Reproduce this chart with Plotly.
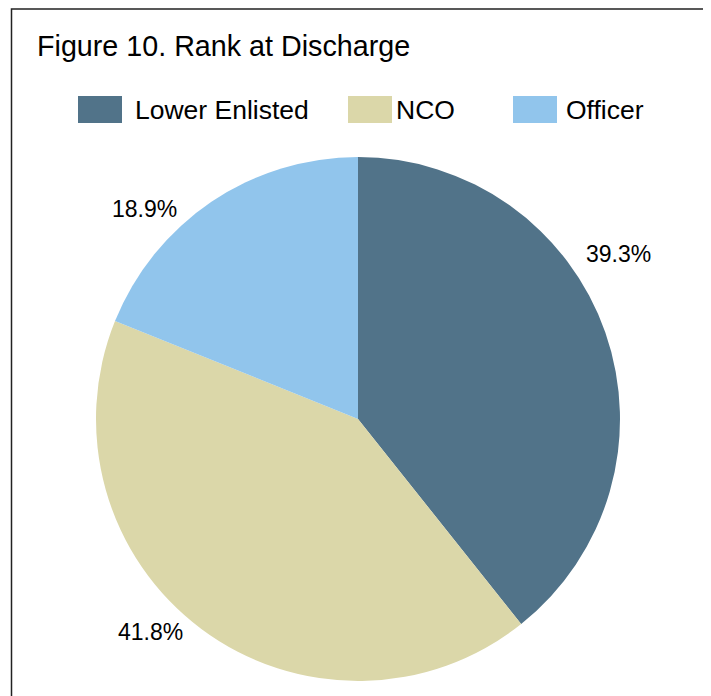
import plotly.graph_objects as go

title_text = "Figure 10. Rank at Discharge"
categories = ["Lower Enlisted", "NCO", "Officer"]
values = [39.3, 41.8, 18.9]
colors = ["#517389", "#DBD7A9", "#91C5EC"]

# layout / style (pixel positions in the browser window)
OFF = 8  # default page body margin
W, H = 711 - OFF, 696 - OFF
label_pos = [(618, 254), (150, 632), (144, 209)]
swatch_x = [78, 348, 513]
text_x = [133, 394, 564]
FONT = "Liberation Sans, Arial, sans-serif"

def px(x):
    return (x - OFF) / W

def py(y):
    return 1 - (y - OFF) / H

fig = go.Figure()
fig.add_trace(go.Pie(
    labels=categories,
    values=values,
    sort=False,
    direction="clockwise",
    rotation=0,
    textinfo="none",
    hoverinfo="label+percent",
    marker=dict(colors=colors, line=dict(width=0)),
    domain=dict(x=[px(96), px(620)], y=[py(681), py(157)]),
    showlegend=False,
))

annotations = []
shapes = []

# title
annotations.append(dict(
    x=px(34.5), y=py(46), xref="paper", yref="paper", xanchor="left", yanchor="middle",
    text=title_text, showarrow=False, font=dict(family=FONT, size=28.7, color="#000000"),
))

# legend (swatches + labels)
for cat, col, sx, tx in zip(categories, colors, swatch_x, text_x):
    shapes.append(dict(type="rect", xref="paper", yref="paper",
                       x0=px(sx), x1=px(sx + 44), y0=py(123), y1=py(96),
                       fillcolor=col, line=dict(width=0)))
    annotations.append(dict(
        x=px(tx), y=py(110), xref="paper", yref="paper", xanchor="left", yanchor="middle",
        text=cat, showarrow=False, font=dict(family=FONT, size=26.5, color="#000000"),
    ))

# percentage labels
total = sum(values)
for v, (lx, ly) in zip(values, label_pos):
    annotations.append(dict(
        x=px(lx), y=py(ly), xref="paper", yref="paper", xanchor="center", yanchor="middle",
        text=f"{v / total * 100:.1f}%", showarrow=False,
        font=dict(family=FONT, size=23, color="#000000"),
    ))

# outer border
shapes.append(dict(type="rect", xref="paper", yref="paper",
                   x0=px(11.5), x1=px(705.5), y0=py(720), y1=py(9),
                   line=dict(color="#222222", width=1.5), fillcolor="rgba(0,0,0,0)"))

fig.update_layout(
    width=W, height=H,
    margin=dict(l=0, r=0, t=0, b=0),
    paper_bgcolor="white", plot_bgcolor="white",
    annotations=annotations, shapes=shapes,
    font=dict(family=FONT),
)

fig.write_html("out.html")
